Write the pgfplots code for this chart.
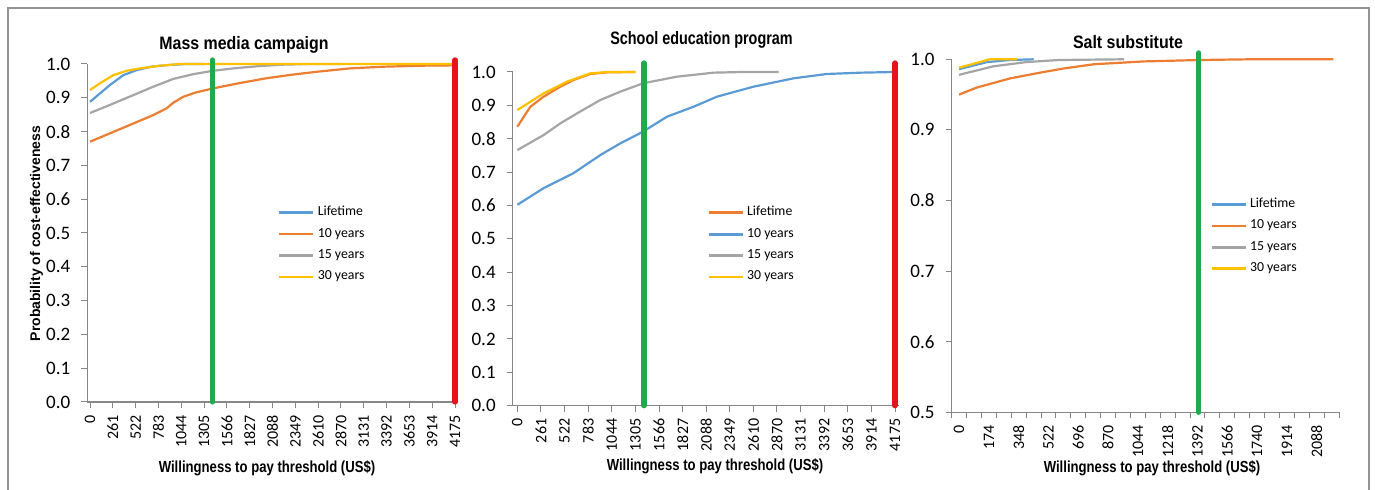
\documentclass[border=0pt]{standalone}
\usepackage{pgfplots}
\pgfplotsset{compat=1.18}
\usepackage{fontspec}
\setmainfont{Carlito}
\newfontfamily\arial{Liberation Sans}

\definecolor{xblue}{HTML}{5B9BD5}
\definecolor{xorange}{HTML}{ED7D31}
\definecolor{xgray}{HTML}{A5A5A5}
\definecolor{xgold}{HTML}{FFC000}
\definecolor{xgreen}{HTML}{1FAA4B}
\definecolor{xred}{HTML}{E3141E}
\definecolor{axgray}{HTML}{868686}

\pgfplotsset{
  ceac/.style={
    scale only axis,
    axis lines=left,
    axis line style={-, axgray, line width=0.6pt},
    tick style={axgray, line width=0.5pt},
    tick align=outside,
    major tick length=3pt,
    minor tick length=3pt,
    yticklabel style={font=\fontsize{9.5}{11}\selectfont, xshift=-2pt,
      /pgf/number format/fixed, /pgf/number format/fixed zerofill,
      /pgf/number format/precision=1},
    /pgf/number format/assume math mode=true,
    xticklabel style={font=\fontsize{8}{9}\selectfont, rotate=90, anchor=east},
    clip=false,
    legend cell align=left,
    legend image code/.code={\draw[#1, line width=1.2pt] (0pt,0pt) -- (17pt,0pt);},
    legend style={draw=none, fill=none, font=\fontsize{6.9}{8}\selectfont,
      anchor=north west, inner sep=0pt, row sep=1.5pt, nodes={inner sep=1.6pt}},
    every axis plot/.append style={line width=1.1pt},
  },
  vline/.style={line width=2.6pt, line cap=round, forget plot},
}

\begin{document}
\begin{tikzpicture}
\useasboundingbox (0,0) rectangle (687.5pt,245pt);
\draw[gray!85, line width=1pt] (4pt,0) -- (4pt,241pt) -- (684.5pt,241pt) -- (684.5pt,0);

% Mass media campaign
\begin{axis}[ceac,
  at={(43.65pt,44pt)}, anchor=south west,
  width=185.35pt, height=169pt,
  xmin=-31, xmax=4209, ymin=0, ymax=1,
  ytick={0,0.1,...,1.0},
  xtick={0,261,522,783,1044,1305,1566,1827,2088,2349,2610,2870,3131,3392,3653,3914,4175},
  xticklabels={0,261,522,783,1044,1305,1566,1827,2088,2349,2610,2870,3131,3392,3653,3914,4175},
  minor x tick num=2,
  legend style={at={(0.514,0.59)}},
]
\addplot[xblue] coordinates {(0,0.888)(114,0.913)(229,0.938)(381,0.967)(534,0.982)(700,0.992)(900,0.997)(1100,1.0)(1305,1.0)};
\addlegendentry{Lifetime}
\addplot[xorange] coordinates {(0,0.770)(229,0.795)(496,0.824)(725,0.849)(877,0.869)(950,0.885)(1068,0.903)(1200,0.915)(1411,0.928)(1700,0.943)(2022,0.958)(2300,0.968)(2594,0.977)(2975,0.987)(3356,0.992)(3800,0.995)(4175,0.996)};
\addlegendentry{10 years}
\addplot[xgray] coordinates {(0,0.855)(229,0.879)(496,0.908)(725,0.933)(954,0.956)(1183,0.970)(1411,0.980)(1640,0.987)(1945,0.994)(2212,0.998)(2500,1.0)(2870,1.0)};
\addlegendentry{15 years}
\addplot[xgold] coordinates {(0,0.923)(114,0.943)(267,0.967)(420,0.980)(572,0.987)(801,0.995)(1030,1.0)(4175,1.0)};
\addlegendentry{30 years}
\addplot[xgreen, vline] coordinates {(1400,0)(1400,1.012)};
\addplot[xred, vline] coordinates {(4175,0)(4175,1.012)};
\end{axis}

% School education program
\begin{axis}[ceac,
  at={(256.35pt,42.15pt)}, anchor=south west,
  width=193.3pt, height=166.85pt,
  xmin=-51, xmax=4222, ymin=0, ymax=1,
  ytick={0,0.1,...,1.0},
  xtick={0,261,522,783,1044,1305,1566,1827,2088,2349,2610,2870,3131,3392,3653,3914,4175},
  xticklabels={0,261,522,783,1044,1305,1566,1827,2088,2349,2610,2870,3131,3392,3653,3914,4175},
  minor x tick num=2,
  legend style={at={(0.503,0.608)}},
]
\addplot[xorange] coordinates {(0,0.836)(144,0.896)(291,0.926)(475,0.956)(622,0.976)(807,0.994)(1000,0.999)(1305,1.0)};
\addlegendentry{Lifetime}
\addplot[xblue] coordinates {(0,0.602)(291,0.652)(622,0.697)(917,0.751)(1138,0.786)(1388,0.821)(1654,0.866)(1949,0.896)(2206,0.926)(2611,0.956)(3053,0.981)(3421,0.994)(3800,0.998)(4175,1.0)};
\addlegendentry{10 years}
\addplot[xgray] coordinates {(0,0.766)(291,0.811)(475,0.846)(660,0.876)(917,0.916)(1138,0.941)(1388,0.966)(1765,0.986)(2170,0.998)(2500,1.0)(2887,1.0)};
\addlegendentry{15 years}
\addplot[xgold] coordinates {(0,0.886)(291,0.936)(549,0.971)(807,0.996)(1000,1.0)(1305,1.0)};
\addlegendentry{30 years}
\addplot[xgreen, vline] coordinates {(1400,0)(1400,1.027)};
\addplot[xred, vline] coordinates {(4175,0)(4175,1.027)};
\end{axis}

% Salt substitute
\begin{axis}[ceac,
  at={(475.8pt,38.85pt)}, anchor=south west,
  width=193.7pt, height=176.5pt,
  xmin=-43.5, xmax=2218.5, ymin=0.5, ymax=1,
  ytick={0.5,0.6,...,1.0},
  xtick={0,174,348,522,696,870,1044,1218,1392,1566,1740,1914,2088},
  xticklabels={0,174,348,522,696,870,1044,1218,1392,1566,1740,1914,2088},
  major x tick style={draw=none},
  minor xtick={-43.5,43.5,...,2218.5},
  legend style={at={(0.667,0.617)}},
]
\addplot[xblue] coordinates {(0,0.986)(162,0.996)(300,0.999)(436,1.0)};
\addlegendentry{Lifetime}
\addplot[xorange] coordinates {(0,0.950)(104,0.960)(299,0.973)(494,0.982)(612,0.987)(788,0.993)(1081,0.997)(1409,0.999)(1700,1.0)(2186,1.0)};
\addlegendentry{10 years}
\addplot[xgray] coordinates {(0,0.978)(200,0.990)(390,0.996)(585,0.999)(964,1.0)};
\addlegendentry{15 years}
\addplot[xgold] coordinates {(0,0.988)(105,0.995)(180,1.0)(338,1.0)};
\addlegendentry{30 years}
\addplot[xgreen, vline] coordinates {(1400,0.5)(1400,1.009)};
\end{axis}

% titles and labels
\node[font=\arial\bfseries\fontsize{9}{10}\selectfont] at (122pt,222.5pt) {\scalebox{0.885}[1]{Mass media campaign}};
\node[font=\arial\bfseries\fontsize{9}{10}\selectfont] at (350.75pt,225pt) {\scalebox{0.80}[1]{School education program}};
\node[font=\arial\bfseries\fontsize{9}{10}\selectfont] at (564pt,224pt) {\scalebox{0.887}[1]{Salt substitute}};
\node[font=\arial\bfseries\fontsize{8}{9}\selectfont] at (133.5pt,11pt) {\scalebox{0.82}[1]{Willingness to pay threshold (US\$)}};
\node[font=\arial\bfseries\fontsize{8}{9}\selectfont] at (357.5pt,12pt) {\scalebox{0.82}[1]{Willingness to pay threshold (US\$)}};
\node[font=\arial\bfseries\fontsize{8}{9}\selectfont] at (576pt,11pt) {\scalebox{0.82}[1]{Willingness to pay threshold (US\$)}};
\node[font=\arial\bfseries\fontsize{7}{8}\selectfont, rotate=90] at (18.3pt,128.25pt) {Probability of cost-effectiveness};
\end{tikzpicture}
\end{document}
